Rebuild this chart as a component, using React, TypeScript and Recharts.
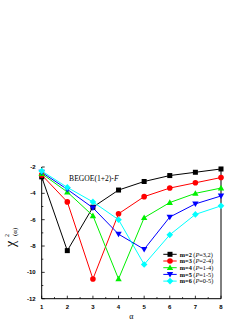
import React from 'react';
import { LineChart, Line, XAxis, YAxis, ReferenceDot, Customized } from 'recharts';

const alpha = [1, 2, 3, 4, 5, 6, 7, 8];
const m2 = [-2.75, -8.35, -5.05, -3.75, -3.1, -2.65, -2.4, -2.15];
const m3 = [-2.6, -4.65, -10.5, -5.55, -4.25, -3.6, -3.2, -2.8];
const m4 = [-2.5, -3.9, -5.7, -10.5, -5.85, -4.7, -4.0, -3.6];
const m5 = [-2.4, -3.7, -5.1, -7.1, -8.25, -5.8, -4.8, -4.2];
const m6 = [-2.3, -3.55, -4.65, -6.0, -9.4, -7.15, -5.6, -4.95];

const seriesNames = ['m=2', 'm=3', 'm=4', 'm=5', 'm=6'];
const seriesP = ['P=3,2', 'P=2-4', 'P=1-4', 'P=1-5', 'P=0-5'];
const seriesKeys = ['m2', 'm3', 'm4', 'm5', 'm6'];
const seriesColors = ['#000000', '#ff0000', '#00f000', '#0000ff', '#00ffff'];
const seriesShapes = ['square', 'circle', 'up', 'down', 'diamond'];

const xTicks = [1, 1.5, 2, 2.5, 3, 3.5, 4, 4.5, 5, 5.5, 6, 6.5, 7, 7.5, 8];
const yTicks = [-12, -11, -10, -9, -8, -7, -6, -5, -4, -3, -2];

const data = alpha.map((a, i) => ({ alpha: a, m2: m2[i], m3: m3[i], m4: m4[i], m5: m5[i], m6: m6[i] }));

const tickFont = { fontFamily: 'Liberation Sans, Arial, sans-serif', fontSize: 6, fontWeight: 700 };
const serif = 'Liberation Serif, Times New Roman, serif';

function Marker({ cx, cy, shape, color }: any) {
  if (cx == null || cy == null) return null;
  if (shape === 'square') return <rect x={cx - 2.5} y={cy - 2.5} width={5} height={5} fill={color} />;
  if (shape === 'circle') return <circle cx={cx} cy={cy} r={2.8} fill={color} />;
  if (shape === 'up') return <polygon points={`${cx},${cy - 3.2} ${cx + 3.2},${cy + 2.4} ${cx - 3.2},${cy + 2.4}`} fill={color} />;
  if (shape === 'down') return <polygon points={`${cx},${cy + 3.2} ${cx + 3.2},${cy - 2.4} ${cx - 3.2},${cy - 2.4}`} fill={color} />;
  return <polygon points={`${cx},${cy - 3.3} ${cx + 3.3},${cy} ${cx},${cy + 3.3} ${cx - 3.3},${cy}`} fill={color} />;
}

const isInt = (v: number) => Math.abs(v - Math.round(v)) < 1e-6;
const isEven = (v: number) => isInt(v) && Math.round(v) % 2 === 0;

function BottomTick({ x, y, payload }: any) {
  const v = payload.value;
  const major = isInt(v);
  return (
    <g>
      <line x1={x} x2={x} y1={y} y2={y - (major ? 3 : 1.6)} stroke="#000" strokeWidth={0.8} />
      {major && (
        <text x={x} y={y + 10} textAnchor="middle" {...tickFont} fill="#000">{v}</text>
      )}
    </g>
  );
}
function TopTick({ x, y, payload }: any) {
  const major = isInt(payload.value);
  return <line x1={x} x2={x} y1={y} y2={y + (major ? 3 : 1.6)} stroke="#000" strokeWidth={0.8} />;
}
function LeftTick({ x, y, payload }: any) {
  const v = payload.value;
  const major = isEven(v);
  return (
    <g>
      <line x1={x} x2={x + (major ? 3 : 1.6)} y1={y} y2={y} stroke="#000" strokeWidth={0.8} />
      {major && (
        <text x={x - 6} y={y + 2} textAnchor="end" {...tickFont} fill="#000">{v}</text>
      )}
    </g>
  );
}
function RightTick({ x, y, payload }: any) {
  const major = isEven(payload.value);
  return <line x1={x} x2={x - (major ? 3 : 1.6)} y1={y} y2={y} stroke="#000" strokeWidth={0.8} />;
}

function LegendBox() {
  const left = 163.3;
  const top = 254.3;
  const rowH = 6.7;
  return (
    <g>
      {seriesKeys.map((k, i) => {
        const cy = top + i * rowH;
        return (
          <g key={k}>
            <line x1={left} x2={left + 13.4} y1={cy} y2={cy} stroke={seriesColors[i]} strokeWidth={1} />
            <Marker cx={left + 6.7} cy={cy} shape={seriesShapes[i]} color={seriesColors[i]} />
            <text x={left + 16.5} y={cy + 2.2} fontFamily={serif} fontSize={6.3} fill="#000">
              <tspan fontWeight={700}>{seriesNames[i]}</tspan>
              <tspan> (</tspan>
              <tspan fontStyle="italic">{seriesP[i].slice(0, 1)}</tspan>
              <tspan>{seriesP[i].slice(1)})</tspan>
            </text>
          </g>
        );
      })}
    </g>
  );
}

function YLabel({ viewBox }: any) {
  const cx = 14.5;
  const cy = (viewBox ? viewBox.y + viewBox.height / 2 : 232) + 5;
  return (
    <g transform={`translate(${cx},${cy}) rotate(-90)`}>
      <text x={-6} y={0} textAnchor="middle" fontFamily={serif} fontSize={14} fill="#000">χ</text>
      <text x={2.3} y={-5.5} textAnchor="middle" fontFamily={serif} fontSize={6} fill="#000">2</text>
      <text x={6} y={2.8} textAnchor="middle" fontFamily={serif} fontSize={7} fill="#000">(α)</text>
    </g>
  );
}

function XLabel({ viewBox }: any) {
  const x = viewBox.x + viewBox.width / 2;
  return (
    <text x={x} y={viewBox.y + 20} textAnchor="middle" fontFamily={serif} fontSize={8} fill="#000">α</text>
  );
}

function Annotation({ viewBox }: any) {
  return (
    <text x={viewBox.x} y={viewBox.y} fontFamily={serif} fontSize={7.6} fill="#000">
      BEGOE(1+2)-<tspan fontStyle="italic">F</tspan>
    </text>
  );
}

export default function App() {
  return (
    <div style={{ position: 'absolute', left: 0, top: 0, width: 249, height: 323, background: '#fff' }}>
      <LineChart width={249} height={323} data={data} margin={{ top: 167, right: 27, bottom: 0, left: 0 }}>
        <XAxis xAxisId="b" dataKey="alpha" type="number" domain={[1, 8]} ticks={xTicks} interval={0}
          orientation="bottom" height={24.3} tickSize={0} tickMargin={0} tickLine={false}
          axisLine={{ stroke: '#000', strokeWidth: 1 }} tick={<BottomTick />} label={<XLabel />} />
        <XAxis xAxisId="t" dataKey="alpha" type="number" domain={[1, 8]} ticks={xTicks} interval={0}
          orientation="top" height={0} tickSize={0} tickMargin={0} tickLine={false}
          axisLine={{ stroke: '#000', strokeWidth: 1 }} tick={<TopTick />} />
        <YAxis yAxisId="l" type="number" domain={[-12, -2]} ticks={yTicks} interval={0} orientation="left"
          width={41.7} tickSize={0} tickMargin={0} tickLine={false}
          axisLine={{ stroke: '#000', strokeWidth: 1 }} tick={<LeftTick />} label={<YLabel />} />
        <YAxis yAxisId="r" type="number" domain={[-12, -2]} ticks={yTicks} interval={0} orientation="right"
          width={1} tickSize={0} tickMargin={0} tickLine={false}
          axisLine={{ stroke: '#000', strokeWidth: 1 }} tick={<RightTick />} />
        {seriesKeys.map((k, i) => (
          <Line key={k} xAxisId="b" yAxisId="l" dataKey={k} name={seriesNames[i]} stroke={seriesColors[i]}
            strokeWidth={1} isAnimationActive={false}
            dot={(p: any) => <Marker key={`${k}-${p.index}`} cx={p.cx} cy={p.cy} shape={seriesShapes[i]} color={seriesColors[i]} />}
            activeDot={false} />
        ))}
        <ReferenceDot xAxisId="b" yAxisId="l" x={2.07} y={-3.05} r={0} fill="none" stroke="none" label={<Annotation />} />
        <Customized component={<LegendBox />} />
      </LineChart>
    </div>
  );
}
